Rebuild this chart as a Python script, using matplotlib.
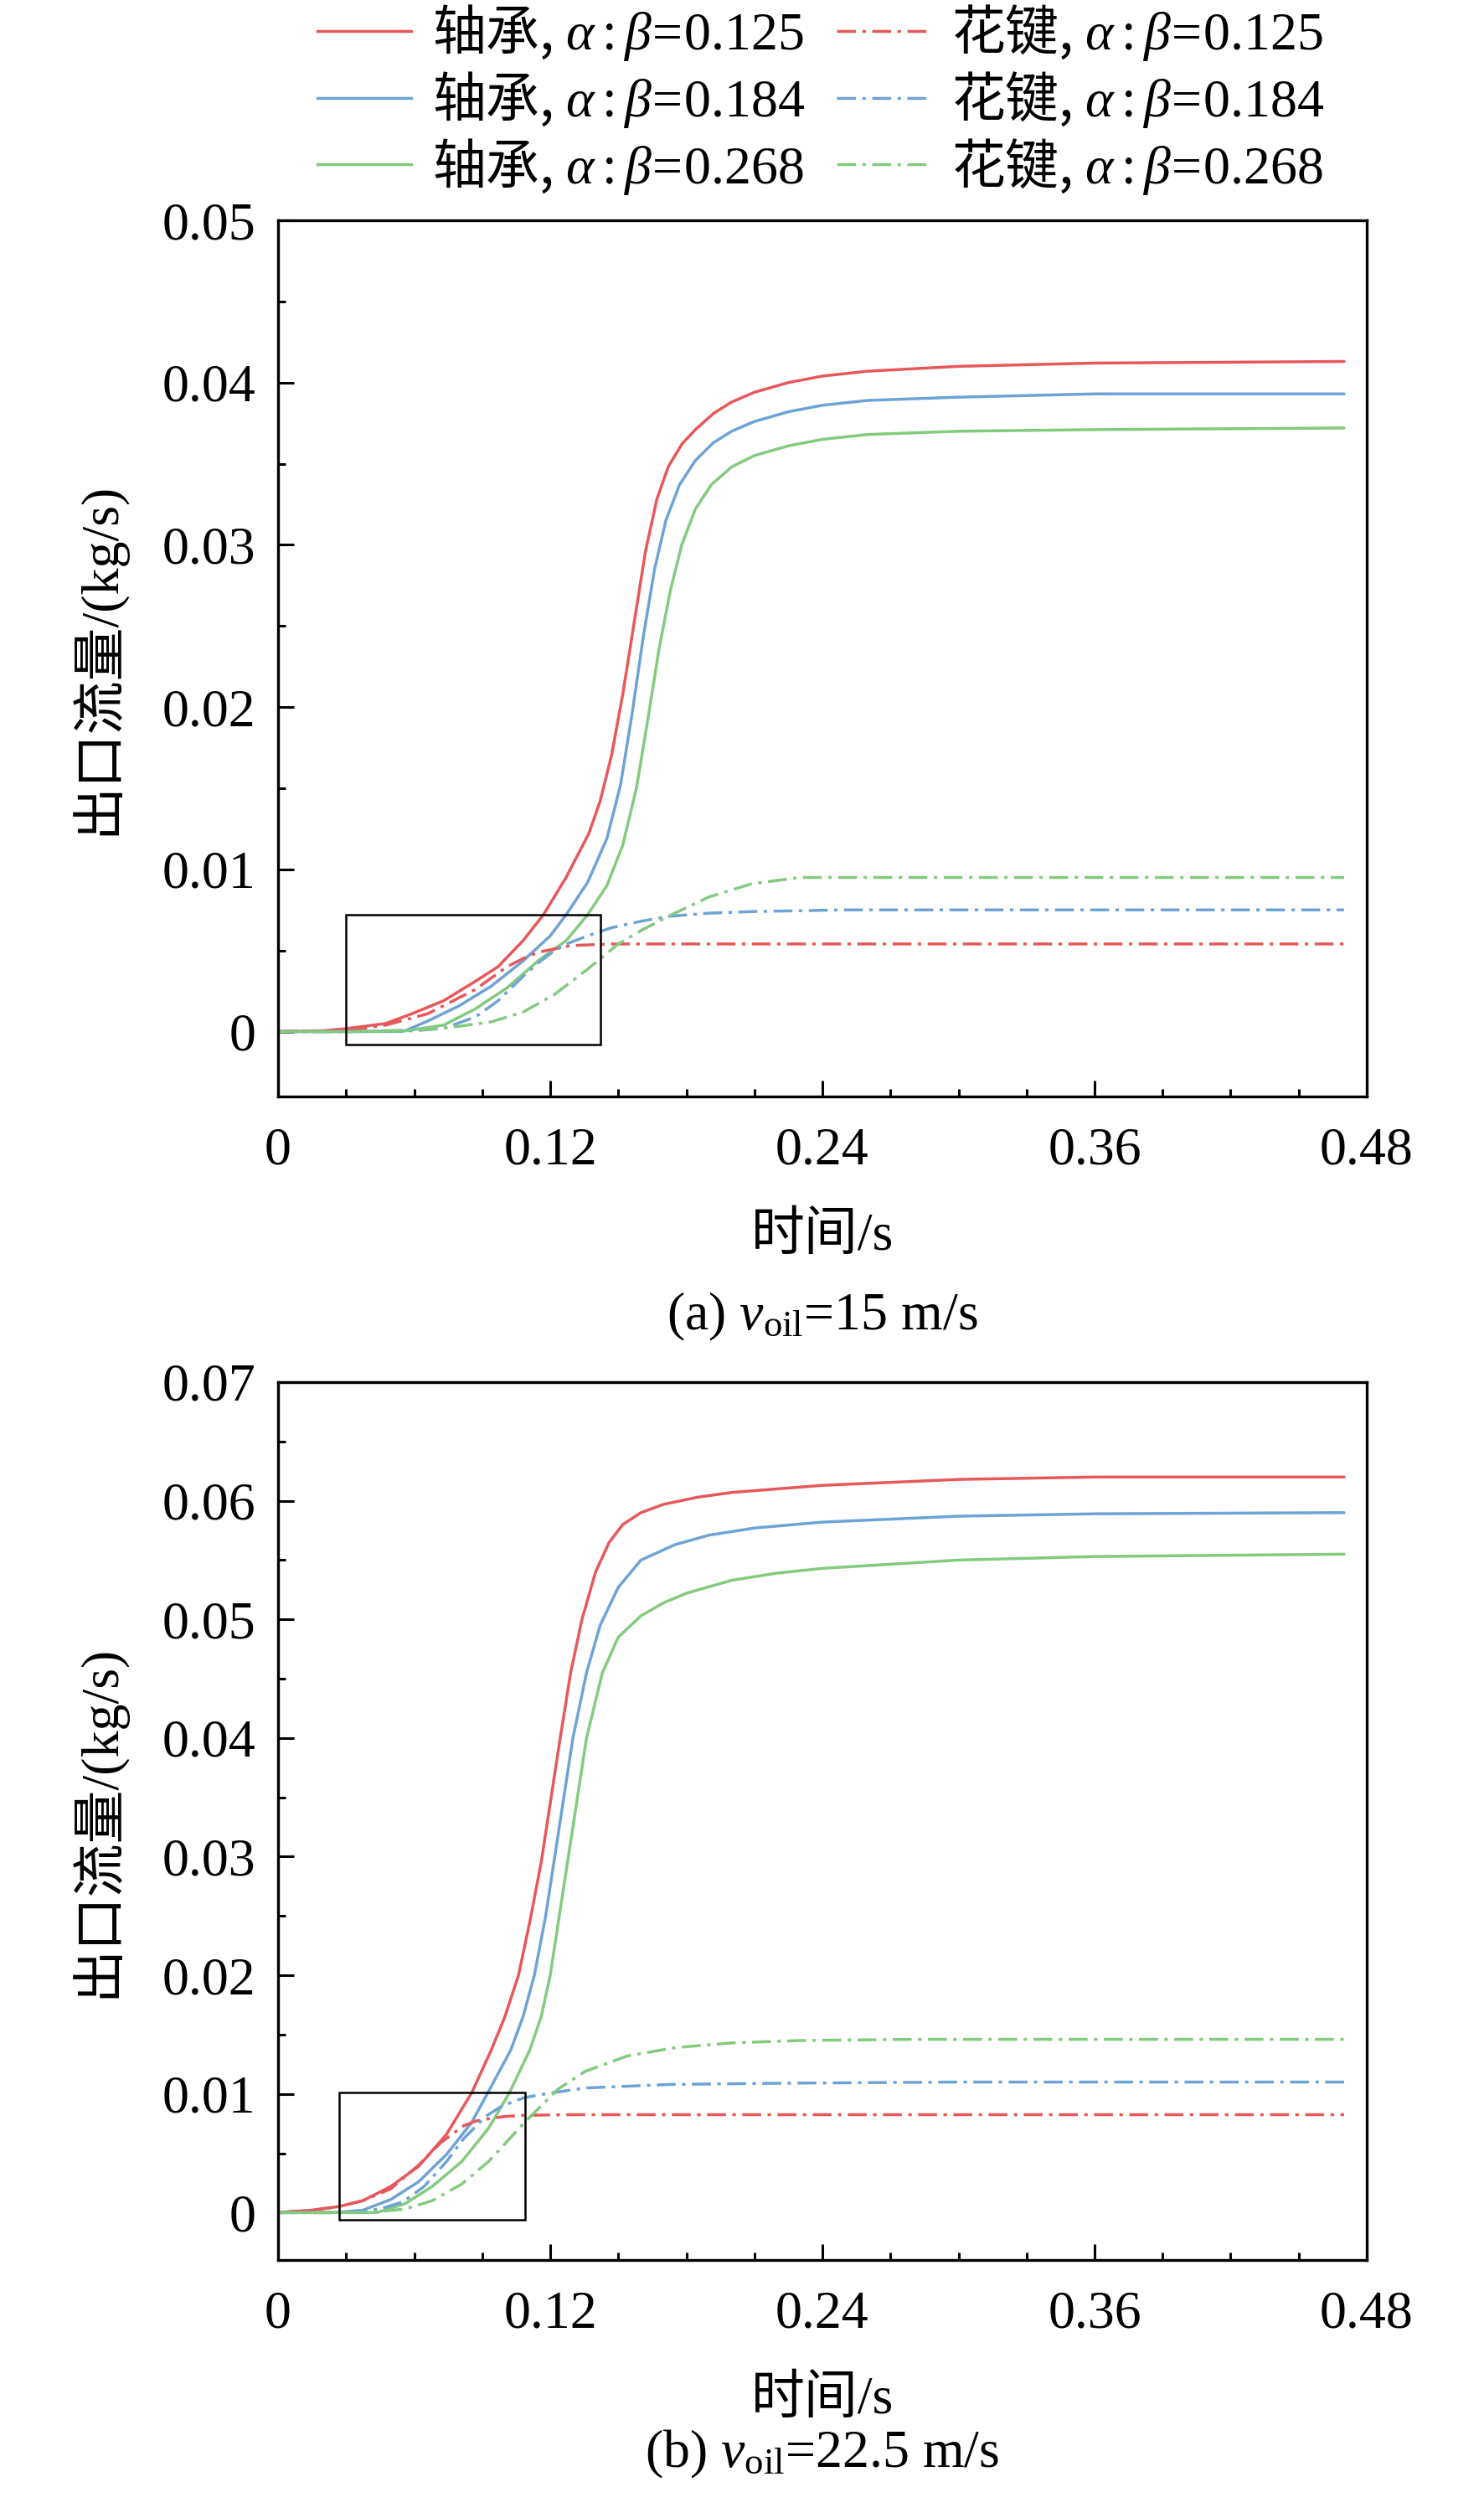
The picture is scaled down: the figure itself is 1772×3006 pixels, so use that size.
import matplotlib
matplotlib.use("Agg")
import matplotlib.pyplot as plt
from matplotlib.patches import Rectangle
from matplotlib.lines import Line2D
from matplotlib.font_manager import FontProperties
from matplotlib.ticker import MultipleLocator, FuncFormatter

plt.rcParams['font.family'] = ['Liberation Serif', 'Noto Sans CJK SC']
plt.rcParams['mathtext.fontset'] = 'custom'
plt.rcParams['mathtext.rm'] = 'Liberation Serif'
plt.rcParams['mathtext.it'] = 'Liberation Serif:italic'
plt.rcParams['mathtext.bf'] = 'Liberation Serif:bold'

# ---------------- data: panel (a) v_oil = 15 m/s ----------------
a_bear_125_t = [0, 0.02, 0.031, 0.0475, 0.059, 0.073, 0.087, 0.097, 0.108, 0.117, 0.127, 0.137,
                0.142, 0.147, 0.152, 0.157, 0.162, 0.167, 0.172, 0.178, 0.184, 0.192, 0.20, 0.21,
                0.225, 0.24, 0.26, 0.30, 0.36, 0.47]
a_bear_125_y = [0, 0.00005, 0.0002, 0.0005, 0.0011, 0.0019, 0.0031, 0.0040, 0.0056, 0.0072, 0.0095, 0.0122,
                0.0142, 0.0170, 0.0208, 0.0252, 0.0296, 0.0328, 0.0348, 0.0362, 0.0371, 0.0381, 0.0388, 0.0394,
                0.0400, 0.0404, 0.0407, 0.0410, 0.0412, 0.0413]
a_bear_184_t = [0, 0.03, 0.056, 0.066, 0.080, 0.094, 0.108, 0.120, 0.127, 0.1365, 0.145, 0.151,
                0.156, 0.161, 0.166, 0.171, 0.177, 0.184, 0.192, 0.20, 0.21, 0.225, 0.24, 0.26,
                0.30, 0.36, 0.47]
a_bear_184_y = [0, 0, 0.00005, 0.00065, 0.0016, 0.0028, 0.00435, 0.0059, 0.0072, 0.0092, 0.0119, 0.0152,
                0.0195, 0.0243, 0.0285, 0.0315, 0.0337, 0.0352, 0.0363, 0.0370, 0.0376, 0.0382, 0.0386, 0.0389,
                0.0391, 0.0393, 0.0393]
a_bear_268_t = [0, 0.03, 0.054, 0.073, 0.087, 0.101, 0.115, 0.127, 0.1365, 0.145, 0.152, 0.158,
                0.163, 0.168, 0.173, 0.178, 0.184, 0.191, 0.20, 0.21, 0.225, 0.24, 0.26, 0.30,
                0.36, 0.47]
a_bear_268_y = [0, 0, 0.0, 0.0004, 0.0014, 0.0027, 0.0044, 0.0056, 0.0072, 0.0090, 0.0115, 0.0150,
                0.0192, 0.0236, 0.0272, 0.0300, 0.0322, 0.0337, 0.0348, 0.0355, 0.0361, 0.0365, 0.0368, 0.0370,
                0.0371, 0.0372]
a_spl_125_t = [0, 0.02, 0.035, 0.0475, 0.066, 0.073, 0.087, 0.101, 0.108, 0.115, 0.122, 0.129, 0.138,
               0.147, 0.18, 0.47]
a_spl_125_y = [0, 0.00003, 0.00015, 0.0004, 0.0011, 0.0016, 0.0026, 0.0040, 0.0045, 0.0049, 0.0051, 0.0053, 0.00535,
               0.0054, 0.0054, 0.0054]
a_spl_184_t = [0, 0.03, 0.06, 0.073, 0.087, 0.097, 0.108, 0.1153, 0.122, 0.129, 0.1365, 0.147, 0.160,
               0.172, 0.19, 0.21, 0.25, 0.47]
a_spl_184_y = [0, 0, 0.00005, 0.0002, 0.0009, 0.0019, 0.0034, 0.0043, 0.0050, 0.0055, 0.0059, 0.0064, 0.0068,
               0.0071, 0.0073, 0.0074, 0.0075, 0.0075]
a_spl_268_t = [0, 0.03, 0.06, 0.073, 0.094, 0.108, 0.122, 0.1365, 0.150, 0.161, 0.172, 0.19,
               0.2086, 0.23, 0.26, 0.47]
a_spl_268_y = [0, 0, 0.0001, 0.0002, 0.0006, 0.0012, 0.0023, 0.00385, 0.0054, 0.0063, 0.0071, 0.0083,
               0.0091, 0.0095, 0.0095, 0.0095]

# ---------------- data: panel (b) v_oil = 22.5 m/s ----------------
b_bear_125_t = [0, 0.015, 0.0266, 0.0374, 0.0497, 0.062, 0.0743, 0.0854, 0.094, 0.100, 0.106, 0.111,
                0.116, 0.120, 0.124, 0.129, 0.134, 0.140, 0.146, 0.152, 0.160, 0.170, 0.185, 0.20,
                0.22, 0.24, 0.30, 0.36, 0.47]
b_bear_125_y = [0, 0.0002, 0.0005, 0.0010, 0.0022, 0.0039, 0.0066, 0.0101, 0.0137, 0.0165, 0.0200, 0.0245,
                0.0295, 0.0345, 0.0395, 0.0455, 0.0500, 0.0540, 0.0565, 0.0580, 0.0590, 0.0597, 0.0603, 0.0607,
                0.0610, 0.0613, 0.0618, 0.0620, 0.0620]
b_bear_184_t = [0, 0.025, 0.0374, 0.0497, 0.062, 0.0743, 0.0854, 0.0925, 0.1026, 0.108, 0.113, 0.118,
                0.122, 0.126, 0.130, 0.136, 0.142, 0.150, 0.160, 0.175, 0.19, 0.21, 0.24, 0.30,
                0.36, 0.47]
b_bear_184_y = [0, 0.0, 0.0002, 0.0011, 0.0026, 0.0049, 0.0076, 0.0101, 0.0137, 0.0165, 0.0200, 0.0250,
                0.0300, 0.0350, 0.0400, 0.0455, 0.0495, 0.0527, 0.0550, 0.0563, 0.0571, 0.0577, 0.0582, 0.0587,
                0.0589, 0.0590]
b_bear_268_t = [0, 0.0436, 0.056, 0.068, 0.081, 0.0928, 0.102, 0.111, 0.116, 0.120, 0.124, 0.128,
                0.132, 0.136, 0.143, 0.150, 0.160, 0.170, 0.18, 0.20, 0.22, 0.24, 0.30, 0.36, 0.47]
b_bear_268_y = [0, 0.0, 0.00075, 0.0022, 0.0043, 0.0071, 0.0101, 0.0137, 0.0165, 0.0200, 0.0250, 0.0300,
                0.0350, 0.0400, 0.0455, 0.0485, 0.0503, 0.0514, 0.0522, 0.0533, 0.0539, 0.0543, 0.0550, 0.0553, 0.0555]
b_spl_125_t = [0, 0.015, 0.0266, 0.0374, 0.0497, 0.062, 0.0718, 0.0817, 0.087, 0.0928, 0.100, 0.1087,
               0.13, 0.47]
b_spl_125_y = [0, 0.0002, 0.0005, 0.0010, 0.0020, 0.0040, 0.0059, 0.0073, 0.0077, 0.0079, 0.0081, 0.0082,
               0.00825, 0.00825]
b_spl_184_t = [0, 0.03, 0.045, 0.055, 0.0644, 0.0743, 0.0817, 0.0915, 0.0989, 0.1087, 0.121, 0.1354,
               0.173, 0.22, 0.30, 0.47]
b_spl_184_y = [0, 0, 0.0003, 0.0009, 0.0022, 0.0043, 0.0062, 0.0081, 0.0090, 0.0097, 0.0101, 0.0105,
               0.0108, 0.0109, 0.0110, 0.0110]
b_spl_268_t = [0, 0.04, 0.056, 0.068, 0.081, 0.0928, 0.1087, 0.1234, 0.1354, 0.154, 0.175, 0.20,
               0.23, 0.28, 0.47]
b_spl_268_y = [0, 0.0, 0.0003, 0.0010, 0.0024, 0.0043, 0.0076, 0.0104, 0.0119, 0.0132, 0.0139, 0.0143,
               0.0145, 0.0146, 0.0146]

# zoom boxes (x0, x1, y0, y1) in data units
box_a = [0.030, 0.142, -0.0008, 0.0072]
box_b = [0.027, 0.109, -0.0006, 0.0101]

ratios = ['0.125', '0.184', '0.268']
captions = ['(a) $v_{\\mathrm{oil}}$=15 m/s', '(b) $v_{\\mathrm{oil}}$=22.5 m/s']
x_ticks = [0, 0.12, 0.24, 0.36, 0.48]
ylims = [(-0.004, 0.05), (-0.004, 0.07)]

colors = ['#E6585B', '#6FA3D6', '#84CA7F']
FS = 23
LW = 1.25
DASHDOT = (0, (6.5, 2.2, 1.2, 2.2))

fig = plt.figure(figsize=(8.86, 15.03), dpi=200)
W, H = 1772.0, 3006.0
ax1 = fig.add_axes([332 / W, 1 - 1309 / H, 1300 / W, 1046 / H])
ax2 = fig.add_axes([332 / W, 1 - 2698 / H, 1300 / W, 1048 / H])

panels = [
    (ax1, [(a_bear_125_t, a_bear_125_y), (a_bear_184_t, a_bear_184_y), (a_bear_268_t, a_bear_268_y)],
     [(a_spl_125_t, a_spl_125_y), (a_spl_184_t, a_spl_184_y), (a_spl_268_t, a_spl_268_y)], box_a),
    (ax2, [(b_bear_125_t, b_bear_125_y), (b_bear_184_t, b_bear_184_y), (b_bear_268_t, b_bear_268_y)],
     [(b_spl_125_t, b_spl_125_y), (b_spl_184_t, b_spl_184_y), (b_spl_268_t, b_spl_268_y)], box_b),
]


def fmt(v, pos):
    if abs(v) < 1e-12:
        return '0'
    return ('%.2f' % v).rstrip('0')


for i, (ax, bears, spls, box) in enumerate(panels):
    for (t, y), c in zip(bears, colors):
        ax.plot(t, y, color=c, lw=LW, solid_capstyle='round', solid_joinstyle='round')
    for (t, y), c in zip(spls, colors):
        ax.plot(t, y, color=c, lw=LW, linestyle=DASHDOT)
    ax.add_patch(Rectangle((box[0], box[2]), box[1] - box[0], box[3] - box[2],
                           fill=False, ec='black', lw=0.9, zorder=5))
    ax.set_xlim(0, 0.48)
    ax.set_xticks(x_ticks)
    ax.xaxis.set_minor_locator(MultipleLocator(0.03))
    ax.yaxis.set_major_locator(MultipleLocator(0.01))
    ax.yaxis.set_minor_locator(MultipleLocator(0.005))
    ax.xaxis.set_major_formatter(FuncFormatter(fmt))
    ax.yaxis.set_major_formatter(FuncFormatter(fmt))
    ax.set_ylim(*ylims[i])
    for sp in ax.spines.values():
        sp.set_linewidth(1.2)
    ax.tick_params(which='both', direction='in', top=False, right=False, width=1.1,
                   labelsize=FS)
    ax.tick_params(which='major', length=6.8)
    ax.tick_params(which='minor', length=3.4)
    ax.tick_params(axis='y', which='major', pad=9.5)
    ax.tick_params(axis='x', which='major', pad=13)
    for lab in ax.get_xticklabels() + ax.get_yticklabels():
        lab.set_family('Liberation Serif')

    pos = ax.get_position()
    yc = (pos.y0 + pos.y1) / 2
    fig.text(115 / W, yc, '出口流量/(kg/s)', rotation=90, ha='center', va='center', fontsize=FS,
             family=['Liberation Serif', 'Noto Sans CJK SC'])
    bottom_px = (1 - pos.y0) * H
    fig.text((pos.x0 + pos.x1) / 2, 1 - (bottom_px + 168) / H, '时间/s', ha='center', va='center',
             fontsize=FS, family=['Liberation Serif', 'Noto Sans CJK SC'])
    cap_off = 263 if i == 0 else 232
    fig.text((pos.x0 + pos.x1) / 2, 1 - (bottom_px + cap_off) / H, captions[i], ha='center', va='center',
             fontsize=FS, family='Liberation Serif')

# legend
handles = []
labels = []
for c, r in zip(colors, ratios):
    handles.append(Line2D([], [], color=c, lw=LW))
    labels.append('轴承, $\\alpha:\\beta\\!=\\!' + r + '$')
for c, r in zip(colors, ratios):
    handles.append(Line2D([], [], color=c, lw=LW, linestyle=DASHDOT))
    labels.append('花键, $\\alpha:\\beta\\!=\\!' + r + '$')
fig.legend(handles, labels, ncol=2, loc='center', bbox_to_anchor=(980 / W, 1 - 119 / H),
           frameon=False, prop=FontProperties(family=['Noto Sans CJK SC'], size=FS),
           handlelength=1.75, handletextpad=0.39, columnspacing=0.6, labelspacing=0.12,
           borderpad=0, borderaxespad=0)

fig.savefig('out.png', dpi=200)
